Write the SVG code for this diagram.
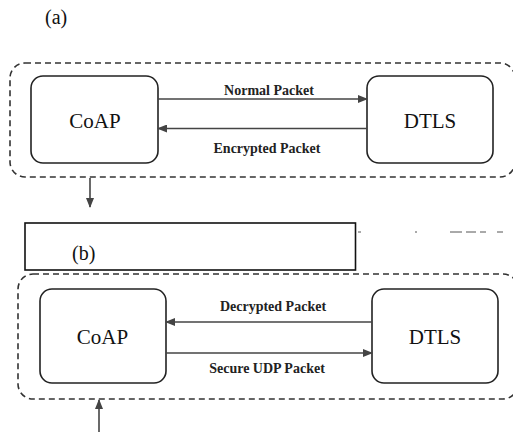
<svg xmlns="http://www.w3.org/2000/svg" width="513" height="432" viewBox="0 0 513 432">
<style>
.node{fill:#fff;stroke:#222;stroke-width:1.6}
.group{fill:none;stroke:#333;stroke-width:1.6;stroke-dasharray:6 4}
.big{font-family:"Liberation Serif",serif;font-size:21px;fill:#111;text-anchor:middle}
.lbl{font-family:"Liberation Serif",serif;font-size:14px;font-weight:bold;fill:#222;text-anchor:middle}
.tag{font-family:"Liberation Serif",serif;font-size:20px;fill:#111}
.conn line{stroke:#444;stroke-width:1.6}
</style>
<defs>
<marker id="ah" markerWidth="10" markerHeight="8" refX="9" refY="4" orient="auto" markerUnits="userSpaceOnUse">
<path d="M0,0 L10,4 L0,8 Z" fill="#444"/>
</marker>
</defs>
<rect width="513" height="432" fill="#fff"/>
<text class="tag" x="45" y="24">(a)</text>
<g id="groupA"><rect class="group" x="10" y="63" width="505" height="114" rx="15"/></g>
<g id="coapA"><rect class="node" x="31" y="76" width="127" height="87" rx="12"/><text class="big" x="95" y="128">CoAP</text></g>
<g id="dtlsA"><rect class="node" x="367" y="76" width="126" height="87" rx="12"/><text class="big" x="430" y="128">DTLS</text></g>
<g id="frameB"><rect x="25" y="223" width="330.5" height="47" fill="#fff" stroke="#111" stroke-width="1.6"/><text class="tag" x="72" y="260" font-size="21">(b)</text>
<path d="M358,232 h3 M415,232 h2 M450,232 h12 M466,232 h10 M480,232 h6 M497,232 h6" stroke="#555" stroke-width="1"/></g>
<g id="groupB"><rect class="group" x="18" y="274" width="500" height="125" rx="15"/></g>
<g id="coapB"><rect class="node" x="40" y="289" width="126" height="94" rx="12"/><text class="big" x="102.5" y="344">CoAP</text></g>
<g id="dtlsB"><rect class="node" x="372" y="289" width="126" height="94" rx="12"/><text class="big" x="435" y="344">DTLS</text></g>
<g id="connectors" class="conn">
<line x1="158" y1="99" x2="367" y2="99" marker-end="url(#ah)"/>
<text class="lbl" x="269" y="95">Normal Packet</text>
<line x1="367" y1="128.5" x2="158" y2="128.5" marker-end="url(#ah)"/>
<text class="lbl" x="267" y="153">Encrypted Packet</text>
<line x1="90" y1="178" x2="90" y2="207" marker-end="url(#ah)"/>
<line x1="372" y1="322" x2="166" y2="322" marker-end="url(#ah)"/>
<text class="lbl" x="273" y="311">Decrypted Packet</text>
<line x1="166" y1="353" x2="372" y2="353" marker-end="url(#ah)"/>
<text class="lbl" x="267" y="373">Secure UDP Packet</text>
<line x1="99" y1="432" x2="99" y2="400" marker-end="url(#ah)"/>
</g>
</svg>
